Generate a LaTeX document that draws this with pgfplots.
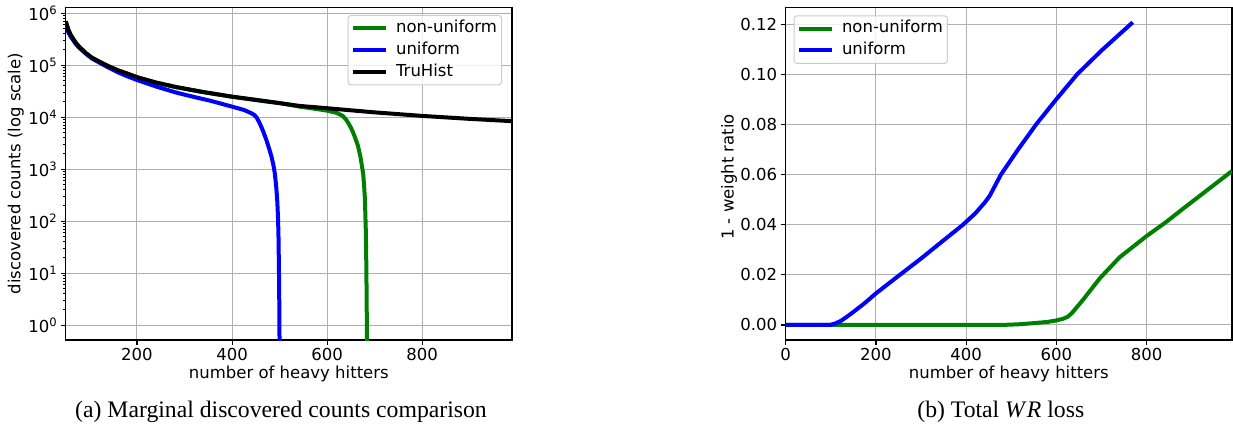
\documentclass[border=0pt]{standalone}
\usepackage{fontspec}
\setmainfont{DejaVu Sans}
\newfontfamily\capfont{Liberation Serif}
\usepackage{pgfplots}
\pgfplotsset{compat=1.18}

\definecolor{mplgreen}{RGB}{0,128,0}
\definecolor{mplblue}{RGB}{0,0,255}
\definecolor{gridgray}{RGB}{176,176,176}
\definecolor{leggray}{RGB}{204,204,204}

\pgfplotsset{
  myaxis/.style={
    scale only axis, width=446.3pt, height=332.7pt,
    anchor=south west,
    font=\fontsize{16.5}{19}\selectfont,
    tick label style={font=\fontsize{16.5}{19}\selectfont, black},
    /pgf/number format/assume math mode=true,
    grid=major, grid style={gridgray, line width=1pt},
    axis line style={line width=1.1pt},
    tick style={black, line width=1.1pt},
    tick align=outside, major tick length=5pt, minor tick length=3pt,
    xtick pos=left, ytick pos=left,
    every axis plot/.append style={line width=4pt, line join=round},
    legend cell align=left,
    legend image code/.code={\draw[#1] (0pt,0pt) -- (33pt,0pt);},
    legend style={font=\fontsize{16.5}{19}\selectfont, draw=leggray, line width=1pt,
      rounded corners=3pt, fill=white, fill opacity=0.8, text opacity=1,
      inner xsep=2.5pt, inner ysep=3pt, row sep=2pt, column sep=6.5pt,
      nodes={inner sep=2pt, text height=12pt, text depth=3.8pt}},
    every axis x label/.style={at={(axis description cs:0.5,-0.102)}, anchor=center},
  }
}

\begin{document}
\begin{tikzpicture}
\path[use as bounding box] (0pt,0pt) rectangle (1233pt,432pt);

% ---------------- left ----------------
\begin{axis}[myaxis, at={(65.7pt,92pt)},
  ymode=log, xmin=50, xmax=989, ymin=0.52, ymax=1.3e6,
  xtick={200,400,600,800},
  ytick={1,10,100,1000,10000,100000,1000000},
  yticklabels={10\textsuperscript{0},10\textsuperscript{1},10\textsuperscript{2},10\textsuperscript{3},10\textsuperscript{4},10\textsuperscript{5},10\textsuperscript{6}},
  xlabel={number of heavy hitters},
  ylabel={discovered counts (log scale)},
  every axis y label/.style={at={(axis description cs:-0.112,0.5)}, rotate=90, anchor=center},
  legend style={at={(1,1)}, anchor=north east, xshift=-10pt, yshift=-7.7pt},
]
\addplot[mplgreen] coordinates {
(50,6.9e5)(55,4.95e5)(60,3.86e5)(66,3.17e5)(72,2.62e5)(80,2.18e5)(93,1.68e5)(105,1.39e5)
(121,1.16e5)(140,9.5e4)(160,7.9e4)(180,6.8e4)(200,5.85e4)(240,4.6e4)(283,3.77e4)(340,3.02e4)
(400,2.47e4)(470,2.02e4)(500,1.87e4)(542,1.6e4)(570,1.47e4)(600,1.34e4)(620,1.21e4)(633,1.06e4)
(640,9.0e3)(645,7.6e3)(650,6.3e3)(655,5.0e3)(660,3.8e3)(665,2.8e3)(670,1.75e3)(673,1.2e3)
(676,800)(678,450)(679.5,270)(680.5,130)(681.5,62)(682.5,14)(683.2,3)(683.6,1)(684,0.3)
};
\addlegendentry{non-uniform}
\addplot[mplblue] coordinates {
(50,5.6e5)(55,4.4e5)(60,3.6e5)(66,3.0e5)(72,2.5e5)(80,2.1e5)(93,1.65e5)(105,1.35e5)
(121,1.12e5)(140,9.0e4)(160,7.3e4)(180,6.1e4)(200,5.2e4)(240,3.9e4)(283,2.97e4)(320,2.45e4)
(353,2.09e4)(400,1.6e4)(425,1.38e4)(440,1.2e4)(447,1.1e4)(452,9.8e3)(458,7.7e3)(465,5.5e3)
(472,3.7e3)(478,2.5e3)(483,1.74e3)(487,1.2e3)(490,830)(493,450)(495,257)(496.5,130)
(497.6,59)(498.6,13.4)(499.3,3.07)(499.7,1)(500,0.3)
};
\addlegendentry{uniform}
\addplot[black] coordinates {
(50,7.0e5)(55,5.0e5)(60,3.9e5)(66,3.2e5)(72,2.65e5)(80,2.2e5)(93,1.7e5)(105,1.4e5)
(121,1.17e5)(140,9.6e4)(160,8.0e4)(180,6.9e4)(200,5.9e4)(240,4.66e4)(283,3.8e4)(340,3.05e4)
(400,2.49e4)(470,2.04e4)(542,1.65e4)(600,1.49e4)(700,1.24e4)(800,1.06e4)(900,9.3e3)(989,8.4e3)
};
\addlegendentry{TruHist}
\end{axis}

% ---------------- right ----------------
\begin{axis}[myaxis, at={(785.7pt,92pt)},
  xmin=0, xmax=989, ymin=-0.006, ymax=0.1267,
  xtick={0,200,400,600,800},
  ytick={0,0.02,0.04,0.06,0.08,0.10,0.12},
  yticklabel style={/pgf/number format/fixed, /pgf/number format/fixed zerofill, /pgf/number format/precision=2},
  scaled y ticks=false,
  xlabel={number of heavy hitters},
  ylabel={1 - weight ratio},
  every axis y label/.style={at={(axis description cs:-0.127,0.49)}, rotate=90, anchor=center},
  legend style={at={(0,1)}, anchor=north west, xshift=7.8pt, yshift=-8pt},
]
\addplot[mplgreen] coordinates {
(0,0)(480,0)(520,0.0003)(548,0.0007)(580,0.0012)(600,0.0018)(615,0.0025)(625,0.0033)(634,0.0047)
(660,0.0103)(696,0.0186)(740,0.027)(800,0.0355)(844,0.0412)(880,0.0463)(932,0.0535)(989,0.0614)
};
\addlegendentry{non-uniform}
\addplot[mplblue] coordinates {
(0,0)(98,0)(110,0.0006)(122,0.0016)(135,0.0032)(150,0.0052)(175,0.0087)(200,0.0126)(253,0.02)
(300,0.0265)(357,0.0348)(393,0.04)(420,0.0445)(441,0.0488)(452,0.0515)(477,0.06)(515,0.07)
(555,0.08)(600,0.0901)(646,0.10)(700,0.1095)(769,0.1207)
};
\addlegendentry{uniform}
\end{axis}

\node[anchor=base, font=\capfont\fontsize{23.7}{28}\selectfont] at (281pt,15pt) {(a) Marginal discovered counts comparison};
\node[anchor=base, font=\capfont\fontsize{23.7}{28}\selectfont] at (1000.8pt,15pt) {(b) Total \textit{W\kern2pt R} loss};
\end{tikzpicture}
\end{document}
